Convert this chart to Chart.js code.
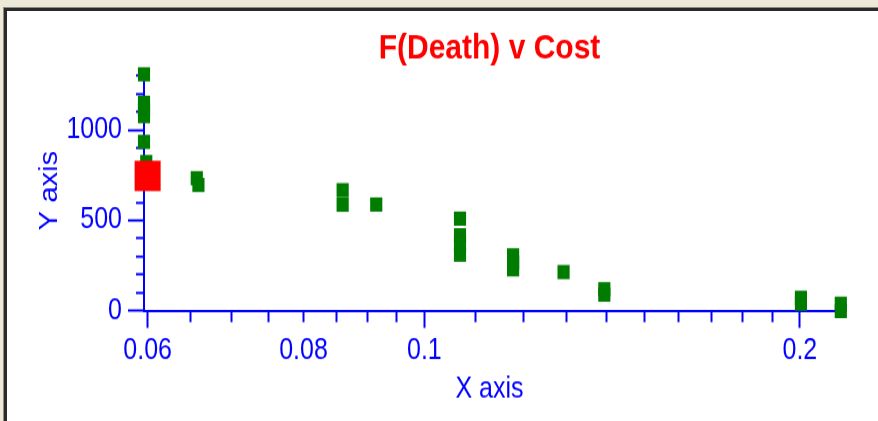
<!DOCTYPE html>
<html>
<head>
<meta charset="utf-8">
<title>F(Death) v Cost</title>
<script src="https://cdn.jsdelivr.net/npm/chart.js@4.4.1/dist/chart.umd.min.js"></script>
<style>
  html, body { margin: 0; padding: 0; background: #ece9d8; overflow: hidden; }
  body { width: 878px; height: 421px; position: relative; }
  .frame {
    position: absolute; left: 4px; top: 8px; right: -10px; bottom: -10px;
    background: #fff;
    border-left: 3px solid #2a2a2a; border-top: 3px solid #2a2a2a;
    box-shadow: -1px -1px 0 #8c8c84;
  }
  /* the original picture is stretched a little in height */
  .stretch {
    position: absolute; left: 0; top: 0; width: 878px; height: 360px;
    transform: scaleY(1.1694); transform-origin: 0 0;
  }
</style>
</head>
<body>
<div class="frame"></div>
<div class="stretch"><canvas id="costChart"></canvas></div>
<script>
// green points: cost (x) against F(Death) (y), listed from the dearest down
const costValues = [
  0.2157, 0.2157,
  0.2004, 0.2004,
  0.1394, 0.1394,
  0.1293,
  0.1178, 0.1178, 0.1178,
  0.1068, 0.1068, 0.1068, 0.1068,
  0.0915,
  0.086, 0.086,
  0.0659, 0.0657,
  0.05985, 0.0596, 0.0596, 0.0596, 0.0596, 0.0596
];
const deathValues = [
  0, 40,
  40, 73,
  90, 120,
  215,
  230, 268, 307,
  311, 365, 418, 510,
  588,
  587, 667,
  696, 733,
  823, 934, 1076, 1112, 1150, 1307
];

// the red base case
const baseCost = [0.06];
const baseDeath = [746];

const xTickValues = [0.06, 0.065, 0.07, 0.075, 0.08, 0.085, 0.09, 0.095, 0.1,
  0.11, 0.12, 0.13, 0.14, 0.15, 0.16, 0.17, 0.18, 0.19, 0.2];
const xTickLabels = ['0.06', '', '', '', '0.08', '', '', '', '0.1',
  '', '', '', '', '', '', '', '', '', '0.2'];
const xMajorTicks = [0.06, 0.1, 0.2];

const yTickValues = [0, 100, 200, 300, 400, 500, 600, 700, 800, 900, 1000, 1100, 1200, 1300];
const yTickLabels = ['0', '', '', '', '', '500', '', '', '', '', '1000', '', '', ''];
const yMajorTicks = [0, 500, 1000];

const BLUE = '#0000ff';
Chart.defaults.font.family = '"Liberation Sans", Arial, sans-serif';

new Chart(document.getElementById('costChart'), {
  type: 'scatter',
  data: {
    datasets: [
      {
        label: 'Base',
        data: baseCost.map((x, i) => ({ x, y: baseDeath[i] })),
        pointStyle: 'rect',
        pointRadius: 18.4,
        backgroundColor: '#ff0000',
        borderWidth: 0,
        order: 0,
        clip: false
      },
      {
        label: 'Options',
        data: costValues.map((x, i) => ({ x, y: deathValues[i] })),
        pointStyle: 'rect',
        pointRadius: 8.6,
        backgroundColor: '#007c00',
        borderWidth: 0,
        order: 1,
        clip: false
      }
    ]
  },
  options: {
    responsive: true,
    maintainAspectRatio: false,
    animation: false,
    layout: { padding: { left: 0, right: 43, top: 0, bottom: 0 } },
    plugins: {
      legend: { display: false },
      tooltip: { enabled: false },
      title: {
        display: true,
        text: 'F(Death) v Cost',
        color: '#ff0000',
        fullSize: false,
        font: { size: 30, weight: 'bold' },
        padding: { top: 24, bottom: 0 }
      }
    },
    scales: {
      x: {
        type: 'logarithmic',
        min: 0.0596,
        max: 0.2134,
        afterBuildTicks: (scale) => { scale.ticks = xTickValues.map((v) => ({ value: v })); },
        afterFit: (scale) => { scale.height = 94.1; },
        border: { color: BLUE, width: 2 },
        grid: {
          drawOnChartArea: false,
          tickLength: 14.5,
          tickWidth: 2,
          tickColor: BLUE,
          tickBorderDash: (ctx) => (xMajorTicks.includes(ctx.tick.value) ? [] : [8.5, 100])
        },
        ticks: {
          autoSkip: false,
          maxRotation: 0,
          padding: 5,
          color: BLUE,
          font: { size: 25 },
          callback: (value) => xTickLabels[xTickValues.indexOf(value)]
        },
        title: {
          display: true,
          text: 'X axis',
          color: BLUE,
          font: { size: 25 },
          padding: { top: 0, bottom: 12 }
        }
      },
      y: {
        type: 'linear',
        min: 0,
        max: 1330,
        afterBuildTicks: (scale) => { scale.ticks = yTickValues.map((v) => ({ value: v })); },
        afterFit: (scale) => { scale.width = 144; },
        border: { color: BLUE, width: 2 },
        grid: {
          drawOnChartArea: false,
          tickLength: 16,
          tickWidth: 2,
          tickColor: BLUE,
          tickBorderDash: (ctx) => (yMajorTicks.includes(ctx.tick.value) ? [] : [0, 8, 100])
        },
        ticks: {
          autoSkip: false,
          padding: 6,
          color: BLUE,
          font: { size: 25 },
          callback: (value) => yTickLabels[yTickValues.indexOf(value)]
        },
        title: {
          display: true,
          text: 'Y axis',
          color: BLUE,
          font: { size: 25 },
          padding: { top: 35, bottom: 0 }
        }
      }
    }
  }
});
</script>
</body>
</html>
